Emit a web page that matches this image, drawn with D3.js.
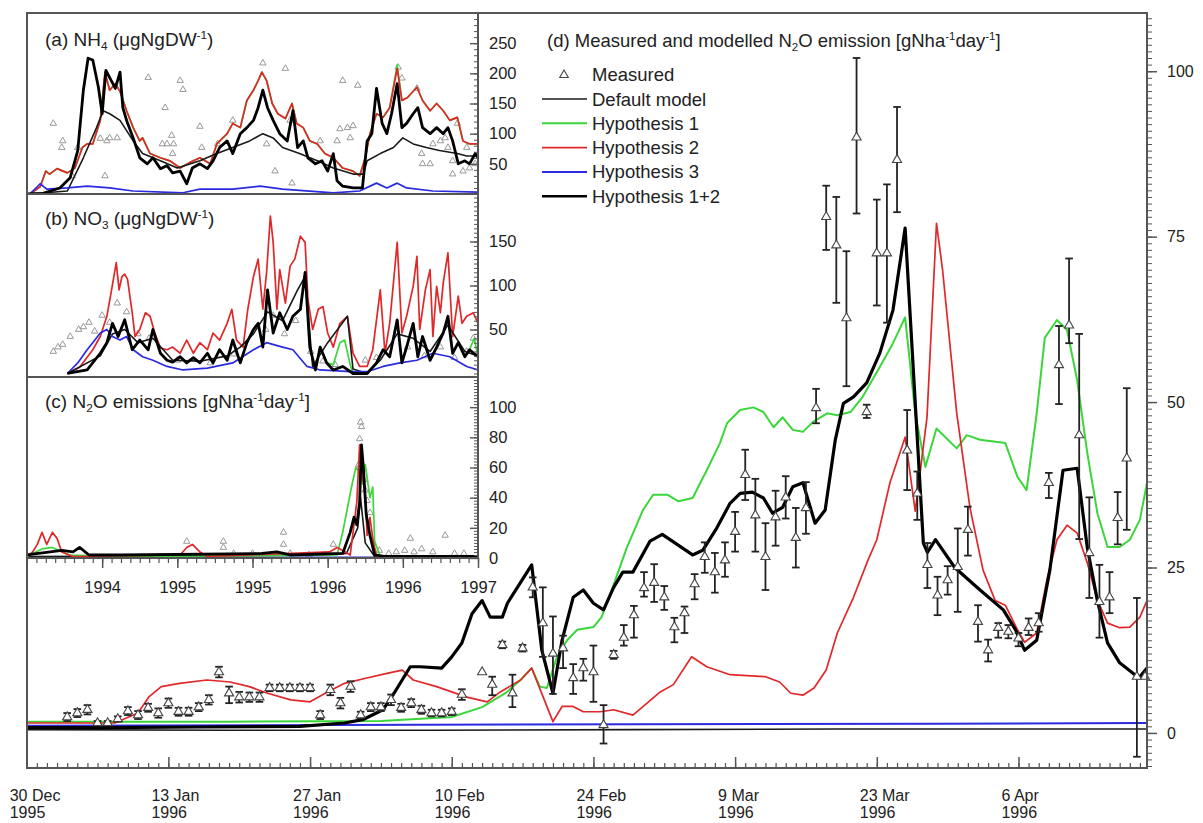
<!DOCTYPE html>
<html>
<head>
<meta charset="utf-8">
<script src="https://cdn.jsdelivr.net/npm/d3@7"></script>
<style>
  body { margin: 0; background: #fff; }
  text { font-family: "Liberation Sans", Arial, sans-serif; fill: #222; }
</style>
</head>
<body>
<svg id="chart" width="1203" height="823"></svg>
<script>
// ---------- Main panel (d): days since 30 Dec 1995 ----------
const startDate = new Date(1995, 11, 30);
const majorDayTicks = [0, 14, 28, 42, 56, 70, 84, 98];
const rightAxisLabels = [0, 25, 50, 75, 100];

const defaultDay = [0, 20, 40, 60, 80, 100, 110.7];
const defaultVal = [0.5, 0.4, 0.4, 0.5, 0.6, 0.6, 0.6];

const hyp3Day = [0, 30, 60, 90, 110.7];
const hyp3Val = [1.1, 1.2, 1.3, 1.4, 1.5];

const hyp1Day = [0,20,35,42,45,47.3,48.8,49.9,50.7,51.4,52.4,53.4,54.4,56,56.8,57.9,59.3,60.9,61.9,63.3,64.4,65.8,67.2,68.5,69.2,70.5,71.8,72.8,73.8,74.7,75.7,76.7,77.7,79.1,80.1,81.4,82.6,84.3,85.6,86.8,87.8,88.8,89.9,91.9,92.9,94.2,96.7,97.9,98.8,99.8,100.6,101.8,102.8,103.8,104.8,105.8,106.8,108,109,110,110.7];
const hyp1Val = [1.7,1.7,1.8,2.4,3.9,6,8,9.8,7,6.8,11.5,14,15.6,16,17.5,22,28,33.7,36,36,35,35.5,39.7,43.8,46.8,48.8,49.2,48.5,46.2,47.7,45.8,45.5,47,48.3,48,48.5,50.8,55.3,58.9,62.8,48.3,40.2,46,43,45,44.3,43.8,38.7,36.7,48.3,59.7,62.4,60.9,53.3,42.3,33.2,28.1,28.1,29.2,32.2,37.8];

const hyp2Day = [0,8.7,11,12.1,13.3,15.1,17.8,20.1,22,23.8,26.1,28,29.5,31.4,33.6,35.6,37.1,38.2,40.5,42,43.5,45.5,46.8,48.8,49.9,52,52.9,54,55,56.7,58,59.9,61.3,62.6,63.9,65.7,67.2,69.5,73,74.4,75.5,76.7,77.8,79,80.1,81.7,83.1,84,85.3,86.8,87.8,88.96,89.9,90.5,91.9,93.2,94.5,95.7,96.7,97.9,98.6,99.8,100.8,101.8,102.8,103.8,104.8,105.8,106.8,108,109,110,110.7];
const hyp2Val = [1.5,1.5,3,5.5,7,7.5,8,7.7,7,6,5,4.7,6,7.5,8.3,9,9.5,8,7,6.2,5.4,4.7,6.2,8,9.8,1.7,4,4,3.2,3.2,3.5,2.7,4.5,6.2,7.3,11.5,10,8.8,8.5,7.7,6,5.7,6.8,9.5,15.1,20.5,26,29.2,37.8,44.7,33.5,47.7,77,70,48.3,34.1,24.6,20,19.3,15.6,13.7,15.1,23.1,29.2,31.4,30.2,25.7,20.1,16.6,15.9,16,17.5,20];

const hyp12Day = [0,7.3,17.1,27,31.4,33.2,35.2,36.3,37.9,38.9,41,42,43,44,45,45.8,47,47.5,49.9,50.9,52,52.9,54,55,56,57,58,58.9,59.9,61.6,62.8,65.8,66.8,68.2,69.5,70.5,71.7,72.8,73.7,74.7,75.7,76.7,77.9,78.9,79.9,80.7,81.7,83,84.3,85.6,86.8,88.6,89,89.8,91.7,94.2,96.5,97.7,98.6,99.8,101.1,102.4,103.8,104.8,105.8,106.8,108,109.5,110,110.7];
const hyp12Val = [0.8,0.8,0.9,1.0,1.5,2.0,3.5,6.0,10,10,9.8,11.5,13.6,18,20,17.5,17.5,19.6,25.4,12.5,6,14,20.5,21.6,19.6,18.6,22,24.3,24.3,29,30,26.9,27.6,31,34.7,36.2,36.4,35.5,33.2,34.1,37.2,37.8,31.7,33.7,44.3,49.8,50.8,52.9,57.4,63.9,76.3,28.7,27.3,29.2,25,21.6,18.6,15.6,12.5,14,24.6,39.7,40,28,20,13.6,10.6,8.8,8.5,9.8];

const measDay = [4,5,6,7,8,9,10,11,12,13,14,15,16,17,18,19,20,21,22,23,24,25,26,27,28,29,30,31,32,33,34,35,36,37,38,39,40,41,42,43,45,46,47,48,49,50,51,52,53,54,55,56,57,58,59,60,61,62,63,64,65,66,67,68,69,70,71,72,73,74,75,76,77,78,79,80,81,82,83,84,85,86,87,88,89,90,91,92,93,94,95,96,97,98,99,100,101,102,103,104,105,106,107,107.8,108.7,109.7,110.5];
const measVal = [2.4,3.0,3.5,1.5,1.5,2.1,3.3,2.7,3.8,3.0,4.5,3.2,3.2,3.9,5.0,9.2,6.0,5.4,5.4,5.4,6.8,6.8,6.8,6.8,6.8,2.7,6.5,4.5,7.0,2.7,3.9,3.9,5.0,3.8,4.5,3.5,3.0,3.0,3.2,5.8,9.2,7.3,13.3,6.0,12.8,22,16.6,12,12.8,8.3,9.8,9.2,1.2,11.8,14.4,17.8,21.9,22.7,20.5,16,18.1,22.5,26.6,24.3,26.1,30.4,39,32.9,26.6,32.6,35.6,29.5,34,49.1,78,73.7,62.7,90,48.5,72.5,72.5,86.6,42.7,36.2,25.4,20.8,23.1,25.1,30.7,16.8,12.5,15.9,15.3,14.3,15.9,16.6,37.8,55.6,61.6,45,27.2,19.8,20.5,32.5,41.5,8.5,8.5];
const measLow = [1.8,2.4,2.8,1.2,1.2,1.7,2.7,2.1,3.2,2.3,3.8,2.6,2.6,3.3,4.3,8.4,4.5,4.6,4.7,4.7,6.3,6.3,6.3,6.3,6.3,2.1,5.7,3.7,6.2,2.2,3.3,3.3,4.2,3.2,3.9,2.9,2.5,2.5,2.7,5.0,9.2,5.7,12.8,3.9,12.3,20.5,11.5,5.9,9.8,5.9,7.9,4.7,-1.6,11.2,13.2,14.4,20.6,19.8,18.6,13.7,15.1,20.2,24.2,21.2,23.6,27.4,35.2,27.4,21.6,28.3,32.4,25,30.1,46.8,73,65,52.4,78.5,47.6,64.6,62,78.7,36.7,32.2,21.9,17.8,20.9,18.3,26.8,13.8,10.8,14.4,14.3,13.1,14.8,15.3,35.5,49.7,58.9,29.3,20.4,14.4,18.1,28.5,30.7,-3.6,8.5];
const measHigh = [3.0,3.6,4.2,1.8,1.8,2.5,3.9,3.3,4.4,3.7,5.2,3.8,3.8,4.5,5.7,10.0,7.0,6.2,6.1,6.1,7.3,7.3,7.3,7.3,7.3,3.3,7.3,5.3,7.8,3.2,4.5,4.5,5.8,4.4,5.1,4.1,3.5,3.5,3.7,6.6,9.2,8.5,13.8,8.8,13.3,23.5,22,17.6,14.7,10.4,11.2,13.2,4.2,12.4,16.3,19.2,24.3,25.5,22.2,17.4,19.1,24.0,28.8,27.2,28.8,33.4,42.8,38.4,31.7,36.6,38.8,34,37.9,52,82.7,81,72.8,102,49.6,80.6,82.9,94.6,48.8,39.5,28.7,23.6,25.2,30.9,34.2,19.3,14.1,16.6,16.3,15.1,17.3,18.1,39.3,61.5,71.7,60.3,35.6,25.4,24.3,36.4,52.1,20.4,8.5];

// ---------- Inset panels (a)-(c): positions in inset time steps ----------
const insetTickPos = [8, 16, 24, 32, 40, 48];
const insetTickLabels = ["1994", "1995", "1995", "1996", "1996", "1997"];

// (a) NH4
const nh4Hyp12 = [[0,0],[1.7,1],[3.5,10],[4.6,27],[5.4,72],[6.0,172],[6.5,225],[7.0,222],[7.6,177],[8.0,133],[8.4,205],[8.8,193],[9.4,175],[9.9,202],[10.2,143],[10.6,122],[11.3,93],[12.0,60],[12.8,50],[13.4,60],[14.2,42],[14.9,47],[15.5,35],[16.3,38],[17.0,17],[17.6,43],[18.4,50],[19.2,42],[19.8,55],[20.5,77],[21.3,88],[21.9,67],[22.7,100],[23.4,110],[24.1,122],[24.6,143],[25.1,172],[25.6,143],[26.2,122],[26.9,100],[27.7,88],[28.3,138],[28.8,77],[29.4,88],[29.9,60],[30.7,50],[31.4,55],[32.0,38],[32.6,67],[33.0,22],[33.6,13],[34.7,10],[35.7,10],[36.2,88],[36.7,100],[37.2,175],[37.8,117],[38.3,100],[38.8,133],[39.4,183],[39.9,110],[40.4,117],[41.1,133],[41.6,143],[42.1,110],[42.9,100],[43.6,110],[44.3,100],[44.8,110],[45.3,88],[45.9,50],[46.6,55],[47.1,50],[47.7,67],[48,60]];
const nh4Hyp2 = [[0.3,0],[1.4,12],[2.0,38],[2.4,33],[3.2,42],[4.3,35],[5.1,43],[5.9,77],[6.4,83],[7.0,83],[7.8,122],[8.3,202],[8.8,172],[9.4,183],[9.9,170],[10.6,138],[11.3,110],[12.0,88],[12.3,93],[13.1,67],[14.2,60],[15.2,55],[16.3,43],[17.3,52],[18.4,60],[19.5,50],[20.2,83],[21.3,100],[21.9,117],[22.7,110],[23.4,155],[24.1,172],[24.6,188],[25.0,202],[25.5,188],[26.1,150],[26.7,133],[27.5,125],[28.2,150],[28.7,117],[29.4,110],[30.1,88],[30.9,83],[31.7,67],[32.6,60],[33.6,43],[34.7,38],[35.4,30],[36.0,60],[36.5,100],[37.2,133],[37.9,127],[38.6,143],[39.4,208],[39.9,155],[40.5,160],[41.5,177],[42.1,155],[42.9,138],[43.6,150],[44.3,138],[45.0,122],[45.8,127],[46.4,88],[47.1,83],[48,83]];
// Hypothesis 1 runs almost exactly under Hypothesis 2 here, peeking out at the spring peak
const nh4Hyp1 = [[0.3,0],[1.4,12],[2.0,38],[2.4,33],[3.2,42],[4.3,35],[5.1,43],[5.9,77],[6.4,83],[7.0,83],[7.8,122],[8.3,200],[8.8,172],[9.4,183],[9.9,170],[10.6,138],[11.3,110],[12.0,88],[12.3,93],[13.1,67],[14.2,60],[15.2,55],[16.3,43],[17.3,52],[18.4,60],[19.5,50],[20.2,83],[21.3,100],[21.9,117],[22.7,110],[23.4,155],[24.1,172],[24.6,188],[25.0,202],[25.5,188],[26.1,150],[26.7,133],[27.5,125],[28.2,150],[28.7,117],[29.4,110],[30.1,88],[30.9,83],[31.7,67],[32.6,60],[33.6,43],[34.7,38],[35.4,30],[36.0,60],[36.5,100],[37.2,133],[37.9,127],[38.6,143],[39.4,214],[39.9,155],[40.5,160],[41.5,177],[42.1,155],[42.9,138],[43.6,150],[44.3,138],[45.0,122],[45.8,127],[46.4,88],[47.1,83],[48,83]];
const nh4Default = [[0.3,0],[4.3,5],[6.0,60],[7.4,110],[8.1,138],[8.8,133],[9.9,122],[11.3,88],[12.3,67],[14.2,55],[16.0,43],[18.4,55],[20.2,67],[21.9,77],[23.7,88],[25.1,100],[26.2,93],[27.2,77],[29.0,67],[30.9,55],[32.6,43],[34.7,33],[35.8,33],[36.2,55],[37.6,67],[39.0,77],[40.0,93],[41.1,83],[42.5,77],[43.9,72],[45.8,67],[46.8,63],[48,63]];
const nh4Hyp3 = [[0.3,0],[1.4,17],[2.1,8],[4.3,10],[6.4,13],[8.8,10],[11.3,5],[16.6,2],[18.4,8],[21.9,8],[24.8,13],[27.2,8],[32.6,2],[35.4,5],[37.2,18],[38.3,10],[39.4,18],[40.4,10],[43.2,5],[48,3]];
const nh4Measured = [[2.8,117],[3.8,88],[3.7,77],[4.8,30],[5.4,77],[7.8,92],[8.5,88],[8.8,93],[9.6,93],[8.3,30],[12.9,193],[14.7,143],[16.3,188],[16.6,173],[14.4,83],[14.9,83],[15.4,97],[15.6,83],[15.5,67],[18.4,112],[18.6,77],[20.3,83],[21.9,122],[25.1,217],[27.5,208],[26.4,38],[25.5,83],[28.2,18],[31.2,88],[33.6,188],[35.2,180],[33.3,108],[34.1,110],[34.7,113],[34.4,93],[33.0,88],[39.5,210],[39.9,192],[41.5,175],[42.0,67],[42.1,50],[42.9,50],[44.0,88],[44.8,77],[45.3,55],[45.8,117],[46.8,77],[47.1,43],[46.4,38],[47.7,50],[45.3,33],[28.0,122],[43.2,83],[44.5,93]];

// (b) NO3
const no3Hyp2 = [[4.3,0],[5.6,7],[7.0,27],[7.8,42],[8.5,65],[9.0,95],[9.5,126],[9.8,95],[10.1,110],[10.4,113],[10.7,107],[11.2,69],[11.5,42],[12.0,50],[12.6,69],[13.1,65],[13.6,46],[14.2,29],[14.9,27],[15.5,30],[16.3,23],[17.0,38],[17.7,23],[18.4,35],[19.2,27],[19.8,46],[20.5,38],[21.3,57],[21.8,73],[22.3,38],[23.0,30],[23.5,73],[24.1,110],[24.6,130],[25.1,73],[25.5,115],[25.9,179],[26.2,149],[26.6,73],[26.9,118],[27.5,80],[28.0,122],[28.5,130],[29.1,156],[29.6,149],[29.9,84],[30.4,50],[31.0,73],[31.5,76],[32.0,46],[32.6,30],[33.3,57],[34.1,65],[34.7,23],[35.4,8],[36.2,8],[36.8,27],[37.6,95],[38.1,23],[38.6,57],[39.4,149],[39.9,46],[40.4,65],[41.1,99],[41.5,133],[41.8,50],[42.4,95],[42.9,118],[43.2,42],[43.6,99],[44.0,69],[44.3,103],[44.8,137],[45.3,42],[45.9,88],[46.3,57],[46.8,65],[47.5,69],[48,57]];
const no3Hyp12 = [[4.3,0],[6.4,4],[7.8,23],[8.5,35],[9.1,57],[9.7,42],[10.4,61],[11.2,27],[12.0,38],[12.9,27],[13.4,50],[14.2,23],[14.9,15],[15.5,13],[16.3,19],[17.0,12],[17.7,18],[18.4,12],[19.2,23],[19.8,12],[20.5,27],[21.3,15],[21.9,38],[22.7,12],[23.4,35],[24.1,50],[24.6,57],[25.1,30],[25.6,95],[26.2,46],[26.9,69],[27.7,50],[28.3,65],[29.1,73],[29.6,115],[30.1,30],[30.7,4],[31.2,30],[31.9,12],[32.6,4],[33.6,8],[34.7,0],[36.2,0],[37.2,12],[37.9,27],[38.6,19],[39.4,61],[39.9,12],[40.4,30],[41.1,57],[41.6,19],[42.1,42],[42.9,15],[43.6,30],[44.3,46],[44.8,65],[45.3,23],[45.9,35],[46.6,19],[47.1,27],[48,19]];
const no3Default = [[4.3,0],[7.8,20],[9.1,45],[10.4,50],[11.8,35],[13.4,40],[15.5,15],[18.4,14],[21.3,20],[22.7,30],[24.1,45],[25.6,70],[27.2,60],[28.8,95],[29.6,110],[30.4,8],[32.0,35],[34.1,65],[34.7,5],[36.2,0],[37.6,15],[39.4,45],[41.1,40],[42.9,25],[44.8,55],[46.6,25],[48,20]];
// Hypothesis 1 mostly hidden under Hypothesis 1+2, with a separate autumn bump
const no3Hyp1 = [[4.3,0],[6.4,4],[7.8,23],[8.5,35],[9.1,57],[9.7,42],[10.4,61],[11.2,27],[12.0,38],[12.9,27],[13.4,50],[14.2,23],[14.9,15],[15.5,13],[16.3,19],[17.0,12],[17.7,18],[18.4,12],[19.2,23],[19.8,12],[20.5,27],[21.3,15],[21.9,38],[22.7,12],[23.4,35],[24.1,50],[24.6,57],[25.1,30],[25.6,95],[26.2,46],[26.9,69],[27.7,50],[28.3,65],[29.1,73],[29.6,115],[30.1,30],[30.7,4],[31.2,30],[31.9,12],[32.6,10],[33.3,35],[33.8,38],[34.4,10],[34.7,0],[36.2,0],[37.2,12],[37.9,27],[38.6,19],[39.4,61],[39.9,12],[40.4,30],[41.1,57],[41.6,19],[42.1,42],[42.9,15],[43.6,30],[44.3,46],[44.8,65],[45.3,23],[45.9,35],[46.6,19],[47.1,27],[47.6,40],[48,19]];
const no3Hyp3 = [[4.3,0],[5.4,12],[6.4,27],[7.0,35],[7.8,46],[8.5,50],[9.1,42],[9.9,38],[10.6,42],[11.3,27],[12.3,19],[13.4,15],[14.9,8],[16.6,4],[19.2,6],[21.9,12],[24.1,27],[25.5,35],[27.2,30],[28.3,27],[29.8,8],[31.2,4],[34.4,2],[36.2,2],[37.9,8],[39.7,12],[41.5,15],[43.2,23],[45.0,19],[46.8,8],[48,4]];
const no3Measured = [[2.8,25],[3.3,30],[3.8,33],[4.6,42],[5.5,50],[6.0,53],[6.6,58],[7.2,48],[8.0,66],[8.8,58],[9.6,80],[10.6,70],[11.8,45],[13.0,40],[16.0,15],[19.5,12],[22.0,22],[25.4,50],[26.2,66],[27.4,45],[28.6,60],[30.2,25],[31.5,14],[32.8,10],[36.0,15],[37.2,18],[40.5,30],[42.3,20],[44.0,30],[45.5,18],[46.8,25],[47.5,40]];

// (c) N2O emissions
const n2oHyp2 = [[0,1],[0.6,4],[1.1,9],[1.6,17],[2.1,9],[2.7,17],[3.2,13],[3.7,4],[4.9,1],[16.3,2],[17.0,7],[17.6,9],[18.4,4],[19.2,1],[32.2,4],[33.0,7],[33.6,5],[34.4,2],[34.7,17],[35.1,37],[35.4,75],[35.7,55],[36.0,42],[36.2,15],[36.5,27],[36.8,13],[37.2,1],[48,0.5]];
const n2oHyp1 = [[0,1],[1.6,6],[2.7,7],[4.5,2],[10,1],[33.0,2],[33.6,17],[34.1,33],[34.6,49],[35.0,60],[35.4,57],[35.7,49],[36.0,62],[36.5,40],[36.8,47],[37.0,11],[37.6,1],[48,0.5]];
const n2oHyp12 = [[0,2],[3.7,5],[4.9,4],[5.6,7],[6.6,2],[10,2],[25.0,3],[26.6,4],[28,2],[33.6,3],[34.4,17],[34.8,27],[35.1,22],[35.4,37],[35.6,75],[35.8,60],[36.1,29],[36.5,15],[37.0,2],[38,1],[48,1]];
const n2oDefault = [[0,1],[20,1.5],[30,2],[34,3],[35.2,20],[35.5,40],[36,10],[37,1],[48,1]];
const n2oHyp3 = [[0,0.5],[48,0.5]];
const n2oMeasured = [[35.5,90],[35.6,87],[35.4,79],[35.3,62],[27.3,17],[27.3,9],[17.0,11],[20.9,11],[20.9,7],[32.6,9],[40.8,13],[44.5,15],[40.2,5],[41.2,4],[42.0,6],[43.2,4],[45.5,3],[46.5,3],[38.5,3],[39.3,4],[37.5,5],[36.5,30],[36.0,45],[35.8,52],[36.2,38],[24,3],[28,3],[30,2],[22,3]];

// ---------- Legend ----------
const legendNames = ["Default model", "Hypothesis 1", "Hypothesis 2", "Hypothesis 3", "Hypothesis 1+2"];
const colors = { def: "#1a1a1a", h1: "#3bd63b", h2: "#e0282a", h3: "#2a2ae0", h12: "#000" };
const widths = { def: 1.6, h1: 2, h2: 1.7, h3: 2, h12: 3.2 };
const legendKeys = ["def", "h1", "h2", "h3", "h12"];

// ---------- Drawing ----------
const svg = d3.select("#chart");
const frameColor = "#555";
const fontStack = '"Liberation Sans", Arial, sans-serif';

const x = d3.scaleLinear().domain([0, 110.7]).range([26.7, 1147]);
const y = d3.scaleLinear().domain([-5.3, 108.8]).range([768, 13]);

function richText(parent, px, py, parts, size, anchor) {
  const t = parent.append("text").attr("x", px).attr("y", py)
    .style("font-size", size + "px").attr("text-anchor", anchor || "start");
  let shift = 0;
  parts.forEach(([s, kind]) => {
    const target = kind === "sub" ? 4 : kind === "sup" ? -7 : 0;
    const ts = t.append("tspan").attr("dy", target - shift).text(s);
    if (kind) ts.style("font-size", (size * 0.62) + "px");
    shift = target;
  });
  return t;
}

const main = svg.append("g");
const zip = (a, b) => a.map((d, i) => [d, b[i]]);
const mainLine = d3.line().x(d => x(d[0])).y(d => y(d[1]));

const mainSeries = [
  ["def", zip(defaultDay, defaultVal)],
  ["h3", zip(hyp3Day, hyp3Val)],
  ["h1", zip(hyp1Day, hyp1Val)],
  ["h2", zip(hyp2Day, hyp2Val)],
  ["h12", zip(hyp12Day, hyp12Val)]
];
main.append("clipPath").attr("id", "mainClip").append("rect")
  .attr("x", 27).attr("y", 13).attr("width", 1120).attr("height", 755);
const lines = main.append("g").attr("clip-path", "url(#mainClip)");
mainSeries.forEach(([k, pts]) => {
  lines.append("path").datum(pts).attr("d", mainLine)
    .attr("fill", "none").attr("stroke", colors[k]).attr("stroke-width", widths[k])
    .attr("stroke-linejoin", "round");
});

// measured values with error bars
const meas = measDay.map((d, i) => ({ d, v: measVal[i], lo: measLow[i], hi: measHigh[i] }));
const eb = main.append("g").attr("stroke", "#222").attr("stroke-width", 1.8);
meas.filter(m => m.hi > m.lo).forEach(m => {
  const cx = x(m.d);
  eb.append("line").attr("x1", cx).attr("x2", cx).attr("y1", y(m.lo)).attr("y2", y(m.hi));
  [m.lo, m.hi].forEach(v => eb.append("line").attr("x1", cx - 3.8).attr("x2", cx + 3.8)
    .attr("y1", y(v)).attr("y2", y(v)));
});
const tri = d3.symbol().type(d3.symbolTriangle);
main.append("g").selectAll("path").data(meas).join("path")
  .attr("d", tri.size(36)).attr("transform", m => `translate(${x(m.d)},${y(m.v)})`)
  .attr("fill", "#fff").attr("stroke", "#444").attr("stroke-width", 1.1);

// frame
main.append("rect").attr("x", 27).attr("y", 13).attr("width", 1120).attr("height", 755)
  .attr("fill", "none").attr("stroke", frameColor).attr("stroke-width", 2);

// bottom axis (daily minor ticks, fortnightly labels)
function styleAxis(g, w) {
  g.select(".domain").remove();
  g.selectAll(".tick line").attr("stroke", frameColor).attr("stroke-width", w || 1.2);
}
main.append("g").attr("transform", "translate(0,768)")
  .call(d3.axisBottom(x).tickValues(d3.range(0, 111)).tickSize(-5).tickFormat(""))
  .call(g => styleAxis(g));
main.append("g").attr("transform", "translate(0,768)")
  .call(d3.axisBottom(x).tickValues(majorDayTicks).tickSize(-11).tickFormat(""))
  .call(g => styleAxis(g, 1.5));
const fmtDay = d3.timeFormat("%-d %b"), fmtYear = d3.timeFormat("%Y");
majorDayTicks.forEach(d => {
  const dt = d3.timeDay.offset(startDate, d);
  const t = main.append("text").attr("x", x(d) - 17).attr("y", 801).style("font-size", "16px");
  t.append("tspan").text(fmtDay(dt));
  t.append("tspan").attr("x", x(d) - 17).attr("dy", 17).text(fmtYear(dt));
});

// right axis
main.append("g").attr("transform", "translate(1147,0)")
  .call(d3.axisRight(y).tickValues(d3.range(-5, 109)).tickSize(5).tickFormat(""))
  .call(g => styleAxis(g, 1));
main.append("g").attr("transform", "translate(1147,0)")
  .call(d3.axisRight(y).tickValues(rightAxisLabels).tickSize(10).tickPadding(10).tickFormat(d3.format("d")))
  .call(g => { styleAxis(g, 1.5); g.selectAll("text").style("font-size", "16px")
    .style("font-family", fontStack).attr("fill", "#222"); });

// title and legend
richText(main, 547, 47, [["(d) Measured and modelled N"], ["2", "sub"], ["O emission [gNha"], ["-1", "sup"], ["day"], ["-1", "sup"], ["]"]], 18.5);
main.append("path").attr("d", tri.size(32)).attr("transform", "translate(564,75)")
  .attr("fill", "#fff").attr("stroke", "#444").attr("stroke-width", 1.1);
main.append("text").attr("x", 592).attr("y", 81).style("font-size", "18.5px").text("Measured");
legendKeys.forEach((k, i) => {
  const ly = 99 + i * 24.3;
  main.append("line").attr("x1", 542).attr("x2", 587).attr("y1", ly).attr("y2", ly)
    .attr("stroke", colors[k]).attr("stroke-width", Math.min(widths[k], 2.6));
  main.append("text").attr("x", 592).attr("y", ly + 6.5).style("font-size", "18.5px").text(legendNames[i]);
});

// ---------- Inset ----------
const inset = svg.append("g");
const ix = d3.scaleLinear().domain([0, 48]).range([27, 478]);
inset.append("rect").attr("x", 27).attr("y", 13).attr("width", 451).attr("height", 545)
  .attr("fill", "#fff");

const panels = [
  { id: "a", y0: 13, y1: 194, dom: [0, 300], minor: 10, major: [50, 100, 150, 200, 250],
    title: [["(a) NH"], ["4", "sub"], [" (\u03bcgNgDW"], ["-1", "sup"], [")"]], ty: 46,
    series: [["h1", nh4Hyp1], ["h2", nh4Hyp2], ["def", nh4Default], ["h3", nh4Hyp3], ["h12", nh4Hyp12]],
    measured: nh4Measured },
  { id: "b", y0: 194, y1: 377, dom: [-4, 204], minor: 5, major: [50, 100, 150],
    title: [["(b) NO"], ["3", "sub"], [" (\u03bcgNgDW"], ["-1", "sup"], [")"]], ty: 225,
    series: [["h1", no3Hyp1], ["h2", no3Hyp2], ["def", no3Default], ["h3", no3Hyp3], ["h12", no3Hyp12]],
    measured: no3Measured },
  { id: "c", y0: 377, y1: 558, dom: [0, 120], minor: 2, major: [0, 20, 40, 60, 80, 100],
    title: [["(c) N"], ["2", "sub"], ["O emissions [gNha"], ["-1", "sup"], ["day"], ["-1", "sup"], ["]"]], ty: 408,
    series: [["h3", n2oHyp3], ["def", n2oDefault], ["h1", n2oHyp1], ["h2", n2oHyp2], ["h12", n2oHyp12]],
    measured: n2oMeasured }
];

panels.forEach(p => {
  const py = d3.scaleLinear().domain(p.dom).range([p.y1, p.y0]);
  inset.append("clipPath").attr("id", "clip" + p.id).append("rect")
    .attr("x", 27).attr("y", p.y0).attr("width", 451).attr("height", p.y1 - p.y0);
  const g = inset.append("g").attr("clip-path", `url(#clip${p.id})`);
  const ln = d3.line().x(d => ix(d[0])).y(d => py(d[1]));
  g.append("g").selectAll("path").data(p.measured).join("path")
    .attr("d", tri.size(18)).attr("transform", d => `translate(${ix(d[0])},${py(d[1])})`)
    .attr("fill", "none").attr("stroke", "#999").attr("stroke-width", 1);
  p.series.forEach(([k, pts]) => {
    g.append("path").datum(pts).attr("d", ln).attr("fill", "none")
      .attr("stroke", colors[k]).attr("stroke-width", k === "h12" ? 2.8 : Math.min(widths[k], 1.7))
      .attr("stroke-linejoin", "round");
  });
  // right axis with inward ticks
  inset.append("g").attr("transform", "translate(478,0)")
    .call(d3.axisRight(py).tickValues(d3.range(Math.ceil(p.dom[0] / p.minor) * p.minor, p.dom[1] + 0.1, p.minor))
      .tickSize(-4).tickFormat(""))
    .call(gg => styleAxis(gg, 1));
  inset.append("g").attr("transform", "translate(478,0)")
    .call(d3.axisRight(py).tickValues(p.major).tickSize(-8).tickPadding(11).tickFormat(d3.format("d")))
    .call(gg => { styleAxis(gg, 1.4); gg.selectAll("text").style("font-size", "16.5px")
      .style("font-family", fontStack).attr("fill", "#222"); });
  richText(inset, 45, p.ty, p.title, 19);
});

// inset frame and separators
inset.append("rect").attr("x", 27).attr("y", 13).attr("width", 451).attr("height", 545)
  .attr("fill", "none").attr("stroke", frameColor).attr("stroke-width", 2);
[194, 377].forEach(sy => inset.append("line").attr("x1", 27).attr("x2", 478)
  .attr("y1", sy).attr("y2", sy).attr("stroke", frameColor).attr("stroke-width", 2));

// inset time axis
inset.append("g").attr("transform", "translate(0,558)")
  .call(d3.axisBottom(ix).tickValues(d3.range(0, 49)).tickSize(5).tickFormat(""))
  .call(g => styleAxis(g, 1.2));
inset.append("g").attr("transform", "translate(0,558)")
  .call(d3.axisBottom(ix).tickValues(insetTickPos).tickSize(10).tickPadding(13)
    .tickFormat((d, i) => insetTickLabels[i]))
  .call(g => { styleAxis(g, 1.5); g.selectAll("text").style("font-size", "16.5px")
    .style("font-family", fontStack).attr("fill", "#222"); });
</script>
</body>
</html>
